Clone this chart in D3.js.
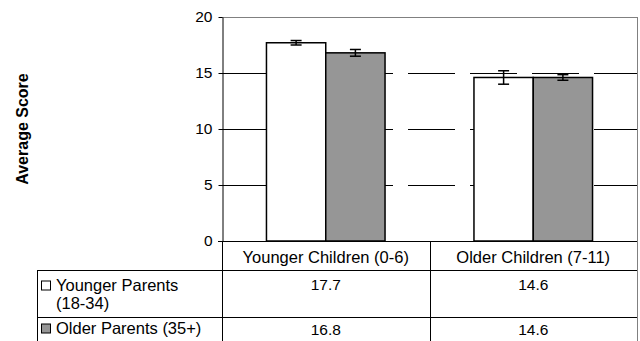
<!DOCTYPE html>
<html><head><meta charset="utf-8">
<script src="https://cdn.jsdelivr.net/npm/d3@7"></script>
<style>body{margin:0;background:#fff}svg{display:block;font-family:"Liberation Sans",Arial,sans-serif}</style>
</head><body><svg id="c" width="640" height="341"></svg>
<script>
const categories = ["Younger Children (0-6)", "Older Children (7-11)"];
const seriesNames = ["Younger Parents (18-34)", "Older Parents (35+)"];
const legendLines = [["Younger Parents", "(18-34)"], ["Older Parents (35+)"]];
const youngerParents = [17.7, 14.6];
const olderParents = [16.8, 14.6];
const youngerErr = [0.2, 0.6];
const olderErr = [0.3, 0.25];
const yTicks = [0, 5, 10, 15, 20];
const colors = ["#ffffff", "#969696"];

const svg = d3.select("#c");
const L = 222, R = 637, T = 17, B = 241;
const y = d3.scaleLinear().domain([0, 20]).range([B, T]);
const x0 = d3.scaleBand().domain(categories).range([L, R]).paddingInner(0).paddingOuter(0);

const series = [youngerParents, olderParents];
const errs = [youngerErr, olderErr];

// plot border
svg.append("line").attr("x1", L).attr("x2", R).attr("y1", T + 0.5).attr("y2", T + 0.5).attr("stroke", "#808080");
svg.append("line").attr("x1", R + 0.5).attr("x2", R + 0.5).attr("y1", T).attr("y2", B).attr("stroke", "#808080");

// gridlines dashed
svg.append("g").selectAll("line").data([5, 10, 15]).join("line")
  .attr("x1", L).attr("x2", R).attr("y1", d => Math.round(y(d)) + 0.5).attr("y2", d => Math.round(y(d)) + 0.5)
  .attr("stroke", "#000").attr("stroke-dasharray", "47,15");

// bars
const bw = x0.bandwidth() / 3.5;
categories.forEach((c, ci) => {
  series.forEach((s, si) => {
    const bx = x0(c) + x0.bandwidth() / 2 - bw + si * bw;
    svg.append("rect").attr("x", bx).attr("y", y(s[ci])).attr("width", bw).attr("height", B - y(s[ci]))
      .attr("fill", colors[si]).attr("stroke", "#000").attr("stroke-width", 1.5);
  });
});
// error bars
categories.forEach((c, ci) => {
  series.forEach((s, si) => {
    const cx = x0(c) + x0.bandwidth() / 2 - bw / 2 + si * bw;
    const hi = y(s[ci] + errs[si][ci]), lo = y(s[ci] - errs[si][ci]);
    const g = svg.append("g").attr("stroke", "#000").attr("stroke-width", 1.5);
    g.append("line").attr("x1", cx).attr("x2", cx).attr("y1", hi).attr("y2", lo);
    g.append("line").attr("x1", cx - 5.5).attr("x2", cx + 5.5).attr("y1", hi).attr("y2", hi);
    g.append("line").attr("x1", cx - 5.5).attr("x2", cx + 5.5).attr("y1", lo).attr("y2", lo);
  });
});

// y axis
const yAxis = svg.append("g").attr("transform", `translate(${L + 0.5},0)`)
  .call(d3.axisLeft(y).tickValues(yTicks).tickSize(4).tickSizeOuter(0).tickPadding(6));
yAxis.select(".domain").attr("stroke", "#000");
yAxis.selectAll("text").attr("font-size", 15.5).attr("fill", "#000").attr("font-family", "Liberation Sans, Arial, sans-serif");
yAxis.selectAll("line").attr("stroke", "#000");
// x axis base line
svg.append("line").attr("x1", L - 4).attr("x2", R).attr("y1", B + 0.5).attr("y2", B + 0.5).attr("stroke", "#000");

svg.append("text").attr("transform", `translate(28,${(T + B) / 2}) rotate(-90)`)
  .attr("text-anchor", "middle").attr("font-size", 16).attr("font-weight", "bold").text("Average Score");

// data table
const rowY = [B, 270, 317, 341];
const tl = 37;
const tbl = svg.append("g").attr("stroke", "#000");
tbl.append("line").attr("x1", tl).attr("x2", R).attr("y1", rowY[1] + 0.5).attr("y2", rowY[1] + 0.5);
tbl.append("line").attr("x1", tl).attr("x2", R).attr("y1", rowY[2] + 0.5).attr("y2", rowY[2] + 0.5);
tbl.append("line").attr("x1", tl + 0.5).attr("x2", tl + 0.5).attr("y1", rowY[1]).attr("y2", 341);
[L, x0(categories[1]), R].forEach(xx => {
  tbl.append("line").attr("x1", Math.round(xx) + 0.5).attr("x2", Math.round(xx) + 0.5).attr("y1", B).attr("y2", 341)
    .attr("stroke", xx === R ? "#808080" : "#000");
});
categories.forEach(c => {
  svg.append("text").attr("x", x0(c) + x0.bandwidth() / 2).attr("y", 263).attr("text-anchor", "middle")
    .attr("font-size", 16.5).text(c);
});
const valRowBase = [289.5, 334.5];
const legBase = [290.5, 333.5];
series.forEach((s, si) => {
  categories.forEach((c, ci) => {
    svg.append("text").attr("x", x0(c) + x0.bandwidth() / 2).attr("y", valRowBase[si]).attr("text-anchor", "middle")
      .attr("font-size", 15.5).text(s[ci].toFixed(1));
  });
  svg.append("rect").attr("x", 41.5).attr("y", legBase[si] - 9.5).attr("width", 9).attr("height", 9)
    .attr("fill", colors[si]).attr("stroke", "#000");
  legendLines[si].forEach((t, li) => {
    svg.append("text").attr("x", 56).attr("y", legBase[si] + li * 18).attr("font-size", 16.5).text(t);
  });
});
</script></body></html>
